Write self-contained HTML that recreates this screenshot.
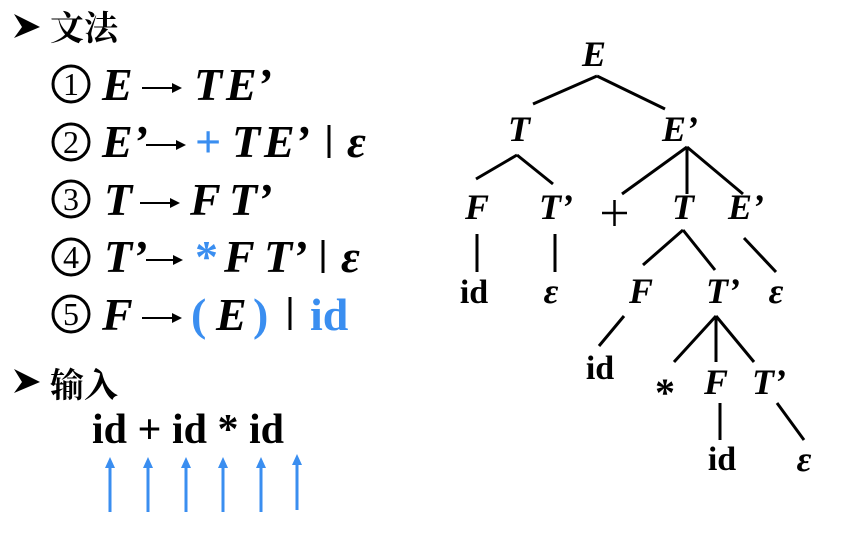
<!DOCTYPE html>
<html><head><meta charset="utf-8"><style>
html,body{margin:0;padding:0;background:#fff;width:841px;height:545px;overflow:hidden}
svg{display:block}
.t{font-family:"Liberation Serif","Noto Serif CJK SC",serif;font-weight:bold;font-style:italic;font-size:46px;fill:#000}
.n{font-family:"Liberation Serif","Noto Serif CJK SC",serif;font-weight:bold;font-size:46px;fill:#000}
.d{font-family:"Liberation Serif",serif;font-size:32px;fill:#000}
.b{fill:#3a8ef0}
.cj{font-family:"Noto Serif CJK SC","Noto Sans CJK SC",serif;font-weight:bold;font-size:34px;fill:#000}
.tr{font-family:"Liberation Serif",serif;font-weight:bold;font-style:italic;font-size:36px;fill:#000}
.tn{font-family:"Liberation Serif",serif;font-weight:bold;font-size:34px;fill:#000}
line{stroke:#000;stroke-width:3}
.ci{fill:none;stroke:#000;stroke-width:3}
</style></head><body>
<svg width="841" height="545" viewBox="0 0 841 545">
<g>
 <polygon points="14,14 40,27 14,38 22,27" fill="#000"/>
 <text class="cj" x="50" y="40">文法</text>
 <g>
  <circle class="ci" cx="71" cy="84" r="18"/><text class="d" x="71" y="95" text-anchor="middle">1</text>
  <text class="t" x="102" y="100">E</text>
  <line x1="142" y1="88" x2="176" y2="88" style="stroke-width:2"/><polygon points="172,83 182,88 172,93"/>
  <text class="t" x="194" y="100">T</text><text class="t" x="226" y="100">E’</text>
 </g>
 <g>
  <circle class="ci" cx="71" cy="142" r="18"/><text class="d" x="71" y="153" text-anchor="middle">2</text>
  <text class="t" x="102" y="157">E’</text>
  <line x1="146" y1="145" x2="180" y2="145" style="stroke-width:2"/><polygon points="176,140 186,145 176,150"/>
  <text class="n b" x="195" y="157">+</text>
  <text class="t" x="232" y="157">T</text><text class="t" x="264" y="157">E’</text>
  <line x1="329" y1="125" x2="329" y2="158"/><text class="t" x="347" y="157">ε</text>
 </g>
 <g>
  <circle class="ci" cx="71" cy="199" r="18"/><text class="d" x="71" y="210" text-anchor="middle">3</text>
  <text class="t" x="104" y="215">T</text>
  <line x1="140" y1="203" x2="174" y2="203" style="stroke-width:2"/><polygon points="170,198 180,203 170,208"/>
  <text class="t" x="190" y="215">F</text><text class="t" x="229" y="215">T’</text>
 </g>
 <g>
  <circle class="ci" cx="71" cy="257" r="18"/><text class="d" x="71" y="268" text-anchor="middle">4</text>
  <text class="t" x="104" y="272">T’</text>
  <line x1="146" y1="260" x2="177" y2="260" style="stroke-width:2"/><polygon points="173,255 183,260 173,265"/>
  <text class="n b" x="195" y="272">*</text>
  <text class="t" x="224" y="272">F</text><text class="t" x="264" y="272">T’</text>
  <line x1="323" y1="240" x2="323" y2="273"/><text class="t" x="341" y="272">ε</text>
 </g>
 <g>
  <circle class="ci" cx="71" cy="314" r="18"/><text class="d" x="71" y="325" text-anchor="middle">5</text>
  <text class="t" x="102" y="330">F</text>
  <line x1="142" y1="318" x2="176" y2="318" style="stroke-width:2"/><polygon points="172,313 182,318 172,323"/>
  <text class="n b" x="191" y="330">(</text><text class="t" x="216" y="330">E</text>
  <text class="n b" x="253" y="330">)</text>
  <line x1="290" y1="297" x2="290" y2="330"/><text class="n b" x="310" y="330">id</text>
 </g>
</g>
<g>
 <polygon points="14,369 40,382 14,393 22,382" fill="#000"/>
 <text class="cj" x="50" y="397">输入</text>
 <text class="n" x="92" y="443" style="font-size:42px">id + id * id</text>
 <g fill="#3a8ef0">
  <g><line x1="110" y1="465" x2="110" y2="512" style="stroke:#3a8ef0"/><polygon points="105,468 110,457 115,468"/></g>
  <g><line x1="148" y1="465" x2="148" y2="512" style="stroke:#3a8ef0"/><polygon points="143,468 148,457 153,468"/></g>
  <g><line x1="186" y1="465" x2="186" y2="512" style="stroke:#3a8ef0"/><polygon points="181,468 186,457 191,468"/></g>
  <g><line x1="223" y1="465" x2="223" y2="512" style="stroke:#3a8ef0"/><polygon points="218,468 223,457 228,468"/></g>
  <g><line x1="261" y1="465" x2="261" y2="512" style="stroke:#3a8ef0"/><polygon points="256,468 261,457 266,468"/></g>
  <g><line x1="297" y1="462" x2="297" y2="510" style="stroke:#3a8ef0"/><polygon points="292,465 297,454 302,465"/></g>
 </g>
</g>
<g>
 <g>
  <line x1="597" y1="76" x2="533" y2="104"/><line x1="597" y1="76" x2="665" y2="109"/>
  <line x1="517" y1="155" x2="476" y2="179"/><line x1="517" y1="155" x2="553" y2="184"/>
  <line x1="687" y1="147" x2="622" y2="194"/><line x1="687" y1="147" x2="687" y2="194"/><line x1="687" y1="147" x2="743" y2="194"/>
  <line x1="477" y1="234" x2="477" y2="272"/><line x1="555" y1="234" x2="555" y2="272"/>
  <line x1="683" y1="230" x2="643" y2="265"/><line x1="683" y1="230" x2="715" y2="270"/>
  <line x1="744" y1="238" x2="776" y2="272"/>
  <line x1="624" y1="316" x2="599" y2="346"/>
  <line x1="716" y1="316" x2="674" y2="362"/><line x1="716" y1="316" x2="716" y2="362"/><line x1="716" y1="316" x2="754" y2="362"/>
  <line x1="720" y1="403" x2="720" y2="440"/>
  <line x1="777" y1="403" x2="804" y2="440"/>
 </g>
 <g>
  <line x1="602" y1="213" x2="627" y2="213" style="stroke-width:2.5"/>
  <line x1="614.5" y1="200" x2="614.5" y2="226" style="stroke-width:2.5"/>
 </g>
 <g text-anchor="middle">
  <text class="tr" x="594" y="66">E</text>
  <text class="tr" x="519" y="141">T</text><text class="tr" x="680" y="141">E’</text>
  <text class="tr" x="477" y="219">F</text><text class="tr" x="556" y="219">T’</text>
  <text class="tr" x="683" y="219">T</text><text class="tr" x="746" y="219">E’</text>
  <text class="tn" x="474" y="303">id</text><text class="tr" x="551" y="303">ε</text>
  <text class="tr" x="641" y="303">F</text><text class="tr" x="723" y="303">T’</text><text class="tr" x="776" y="303">ε</text>
  <text class="tn" x="600" y="379">id</text>
  <text class="tn" x="665" y="406" style="font-size:40px">*</text>
  <text class="tr" x="716" y="394">F</text><text class="tr" x="769" y="394">T’</text>
  <text class="tn" x="722" y="470">id</text><text class="tr" x="804" y="471">ε</text>
 </g>
</g>
</svg>
</body></html>
